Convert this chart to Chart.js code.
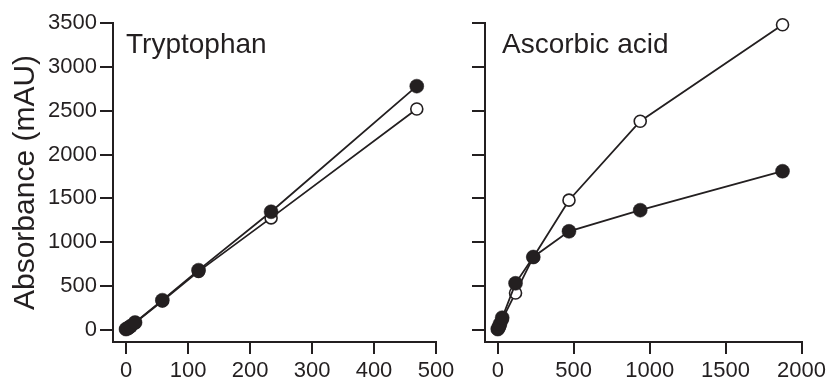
<!DOCTYPE html>
<html>
<head>
<meta charset="utf-8">
<script src="https://cdn.jsdelivr.net/npm/chart.js@4.4.0/dist/chart.umd.min.js"></script>
<style>
html,body{margin:0;padding:0;background:#fff;}
#wrap{position:relative;width:830px;height:386px;}
#c1{position:absolute;left:0;top:0;}
#c2{position:absolute;left:460px;top:0;}
</style>
</head>
<body>
<div id="wrap">
<canvas id="c1" width="460" height="386"></canvas>
<canvas id="c2" width="370" height="386"></canvas>
</div>
<script>
// ---- data ----
const trpX = [0, 3.66, 7.3, 14.6, 58.6, 117, 234, 469];
const trpFilled = [10, 22, 43, 85, 340, 682, 1348, 2780];
const trpOpen = [8, 20, 41, 82, 330, 668, 1278, 2520];

const ascX = [0, 7.3, 14.6, 29.3, 117, 234, 469, 938, 1875];
const ascFilled = [10, 35, 70, 140, 532, 832, 1125, 1366, 1810];
const ascOpen = [8, 28, 58, 118, 422, 830, 1480, 2380, 3480];

const yTicks = [0, 500, 1000, 1500, 2000, 2500, 3000, 3500];
const trpXTicks = [0, 100, 200, 300, 400, 500];
const ascXTicks = [0, 500, 1000, 1500, 2000];

const yTitle = 'Absorbance (mAU)';
const panelLabels = ['Tryptophan', 'Ascorbic acid'];

// ---- style ----
const INK = '#231f20';
const FONT = "'Liberation Sans', Arial, Helvetica, sans-serif";

function pts(xs, ys){ return xs.map((x,i)=>({x:x, y:ys[i]})); }

function datasets(xs, filled, open){
  return [
    {data: pts(xs, filled), borderColor: INK, borderWidth: 1.8,
     pointRadius: 7, pointHoverRadius: 7, pointBackgroundColor: INK, pointBorderColor: INK, pointBorderWidth: 0.5,
     showLine: true, fill: false, tension: 0, clip: false},
    {data: pts(xs, open), borderColor: INK, borderWidth: 1.8,
     pointRadius: 6, pointHoverRadius: 6, pointBackgroundColor: '#fff', pointBorderColor: INK, pointBorderWidth: 1.6,
     showLine: true, fill: false, tension: 0, clip: false}
  ];
}

function panelLabelPlugin(text, dx){
  return {
    id: 'panelLabel',
    afterDraw(chart){
      const ctx = chart.ctx;
      ctx.save();
      ctx.fillStyle = INK;
      ctx.font = "28px " + FONT;
      ctx.textBaseline = 'alphabetic';
      ctx.textAlign = 'left';
      ctx.fillText(text, chart.chartArea.left + dx, 53);
      ctx.restore();
    }
  };
}

const plain = v => String(v);

function makeChart(id, xs, filled, open, xTicks, xmin, xmax, yAxisWidth, showYLabels, label, dx){
  const yScale = {
    type: 'linear', min: -137, max: 3500,
    afterBuildTicks: s => { s.ticks = yTicks.map(v=>({value:v})); },
    afterFit: s => { s.width = yAxisWidth; },
    border: {display: true, color: INK, width: 2},
    grid: {drawOnChartArea: false, drawTicks: true, tickLength: 13, color: INK, lineWidth: 2},
    ticks: {display: showYLabels, color: INK, padding: 3, callback: plain, font: {family: FONT, size: 22}}
  };
  if (showYLabels) {
    yScale.title = {display: true, text: yTitle, color: INK, font: {family: FONT, size: 30}, padding: {top: 8, bottom: 0}};
  }
  return new Chart(document.getElementById(id), {
    type: 'scatter',
    data: {datasets: datasets(xs, filled, open)},
    options: {
      responsive: false, animation: false,
      layout: {padding: {top: 23, right: 24, bottom: 0, left: 0}},
      plugins: {legend: {display: false}, tooltip: {enabled: false}},
      scales: {
        x: {
          type: 'linear', min: xmin, max: xmax,
          afterBuildTicks: s => { s.ticks = xTicks.map(v=>({value:v})); },
          afterFit: s => { s.height = 44; },
          border: {display: true, color: INK, width: 2},
          grid: {drawOnChartArea: false, drawTicks: true, tickLength: 12, color: INK, lineWidth: 2},
          ticks: {color: INK, padding: 4, maxRotation: 0, callback: plain, font: {family: FONT, size: 22}}
        },
        y: yScale
      }
    },
    plugins: [panelLabelPlugin(label, dx)]
  });
}

makeChart('c1', trpX, trpFilled, trpOpen, trpXTicks, -21, 500, 113, true, panelLabels[0], 13);
makeChart('c2', ascX, ascFilled, ascOpen, ascXTicks, -84, 2000, 25, false, panelLabels[1], 17);
</script>
</body>
</html>
